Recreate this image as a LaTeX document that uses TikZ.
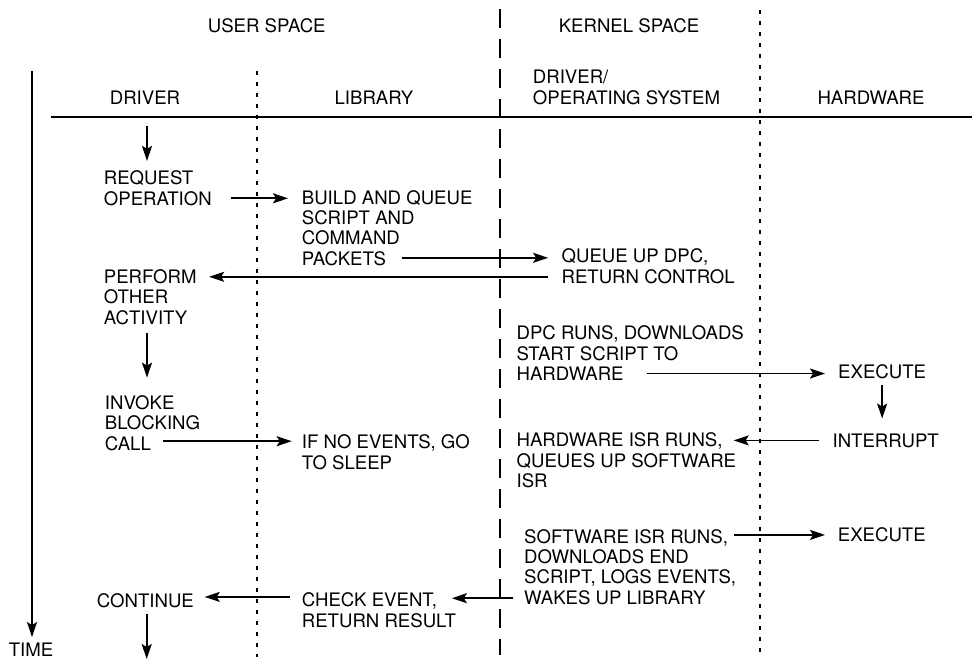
\documentclass[tikz,border=0pt]{standalone}
\usepackage{fontspec}
\setmainfont{TeX Gyre Heros}
\usetikzlibrary{arrows.meta}
\begin{document}
\begin{tikzpicture}[
	x=0.5pt,y=-0.5pt,line join=round,line width=0.9pt,
	>={Stealth[length=7.5pt,width=5pt,inset=1.5pt]},
	lbl/.style={inner sep=0pt,align=left,anchor=base west,font=\fontsize{9.3}{10.15}\selectfont},
	lblc/.style={lbl,anchor=base},
	dashline/.style={dash pattern=on 9.5pt off 5.5pt},
	dotline/.style={dash pattern=on 2pt off 3.5pt}]
	\useasboundingbox (0,0) rectangle (972,660);
	% space and column headings
	\node at (266.7,32) (nodeUser) [lblc] {USER SPACE};
	\node at (629,32) (nodeKernel) [lblc] {KERNEL SPACE};
	\node at (145,104) (nodeHDrv) [lblc] {DRIVER};
	\node at (374,104) (nodeHLib) [lblc] {LIBRARY};
	\node at (532,104) (nodeHOs) [lbl] {DRIVER/\\OPERATING SYSTEM};
	\node at (871,104) (nodeHHw) [lblc] {HARDWARE};
	\node at (31,656.5) (nodeTime) [lblc] {TIME};
	% separators
	\draw (50.7,117) -- (972,117);
	\draw[dashline] (500,9) -- (500,655);
	\draw[dotline] (256.7,70.7) -- (256.7,657);
	\draw[dotline] (760,10) -- (760,653);
	% driver (nodes sit on their last line)
	\node at (103,205) (nodeReq) [lbl] {REQUEST\\OPERATION};
	\node at (103,324) (nodePerform) [lbl] {PERFORM\\OTHER\\ACTIVITY};
	\node at (104,450) (nodeInvoke) [lbl] {INVOKE\\BLOCKING\\CALL};
	\node at (96,607) (nodeCont) [lbl] {CONTINUE};
	% library
	\node at (301,265) (nodeBuild) [lbl] {BUILD AND QUEUE\\SCRIPT AND\\COMMAND\\PACKETS};
	\node at (301,469) (nodeSleep) [lbl] {IF NO EVENTS, GO\\TO SLEEP};
	\node at (301,627) (nodeCheck) [lbl] {CHECK EVENT,\\RETURN RESULT};
	% driver/operating system
	\node at (560.7,283) (nodeQueue) [lbl] {QUEUE UP DPC,\\RETURN CONTROL};
	\node at (515.7,380.5) (nodeDpc) [lbl] {DPC RUNS, DOWNLOADS\\START SCRIPT TO\\HARDWARE};
	\node at (515.7,487.5) (nodeHwIsr) [lbl] {HARDWARE ISR RUNS,\\QUEUES UP SOFTWARE\\ISR};
	\node at (523.3,604) (nodeSwIsr) [lbl] {SOFTWARE ISR RUNS,\\DOWNLOADS END\\SCRIPT, LOGS EVENTS,\\WAKES UP LIBRARY};
	% hardware
	\node at (837.3,378.5) (nodeExecA) [lbl] {EXECUTE};
	\node at (831.7,447) (nodeIntr) [lbl] {INTERRUPT};
	\node at (837,541) (nodeExecB) [lbl] {EXECUTE};
	% time axis and free ends
	\coordinate (t0) at (32,70.7);
	\coordinate (d1) at (147,126);
	\coordinate (d3) at (146.7,659);
	\draw[->] (t0) -- ([yshift=2.5pt]t0 |- nodeTime.north);
	% flow
	\draw[->] (d1) -- ([yshift=4.5pt]d1 |- nodeReq.north);
	\draw[->] ([xshift=9pt,yshift=3.35pt]nodeReq.base east) coordinate (r1) -- ([xshift=-6.5pt]r1 -| nodeBuild.west);
	\draw[->] ([xshift=50.3pt,yshift=3.6pt]nodeBuild.base west) coordinate (r2) -- ([xshift=-6.3pt]r2 -| nodeQueue.west);
	\draw[->] ([xshift=-6.3pt,yshift=3.1pt]nodeQueue.base west) coordinate (r3) -- ([xshift=5.85pt]r3 -| nodePerform.east);
	\draw[->] ([yshift=-3.85pt]d1 |- nodePerform.south) -- ([yshift=8.5pt]d1 |- nodeInvoke.north);
	\draw[->] ([xshift=29.5pt,yshift=4.4pt]nodeInvoke.base west) coordinate (r4) -- ([xshift=-4.65pt]r4 -| nodeSleep.west);
	\draw[->] ([xshift=65.5pt,yshift=3.5pt]nodeDpc.base west) coordinate (r5) -- ([xshift=-6.15pt]r5 -| nodeExecA.west);
	\draw[->] ([yshift=-2.4pt]nodeExecA.south) -- ([yshift=7pt]nodeExecA.south |- nodeIntr.north);
	\draw[->] ([xshift=-6.2pt]nodeIntr.west) coordinate (r6) -- ([xshift=-1.65pt]r6 -| nodeHwIsr.east);
	\draw[->] ([xshift=-1.35pt,yshift=-3.3pt]nodeSwIsr.north east) coordinate (r7) -- ([xshift=-6pt]r7 -| nodeExecB.west);
	\draw[->] ([xshift=-5pt,yshift=2.9pt]nodeSwIsr.base west) coordinate (r8) -- ([xshift=-2.5pt]r8 -| nodeCheck.east);
	\draw[->] ([xshift=-5.5pt,yshift=-2.5pt]nodeCheck.north west) coordinate (r9) -- ([xshift=5pt]r9 -| nodeCont.east);
	\draw[->] ([yshift=-3pt]d3 |- nodeCont.south) -- (d3);
\end{tikzpicture}
\end{document}
